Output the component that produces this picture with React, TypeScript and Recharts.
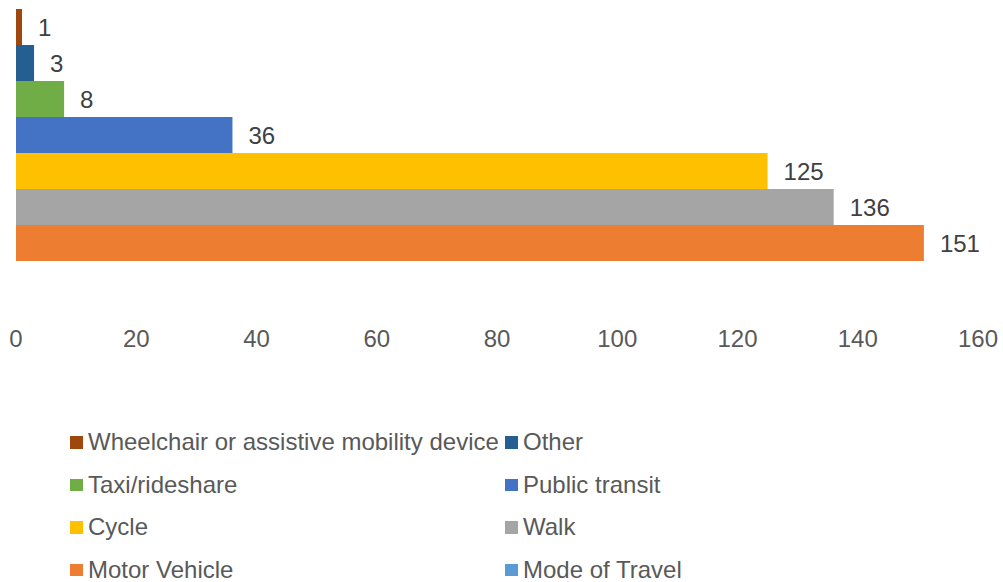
import React from 'react';
import { BarChart, Bar, XAxis, YAxis, Legend, LabelList } from 'recharts';

const categories = ['Mode of Travel'];
const seriesNames = [
  'Wheelchair or assistive mobility device',
  'Other',
  'Taxi/rideshare',
  'Public transit',
  'Cycle',
  'Walk',
  'Motor Vehicle',
  'Mode of Travel',
];
const seriesValues: (number | null)[] = [1, 3, 8, 36, 125, 136, 151, null];
const seriesColors = ['#9E480E', '#255E91', '#70AD47', '#4472C4', '#FFC000', '#A5A5A5', '#ED7D31', '#5B9BD5'];
const xTicks = [0, 20, 40, 60, 80, 100, 120, 140, 160];

const data = categories.map((c) => {
  const row: Record<string, any> = { name: c };
  seriesNames.forEach((s, i) => {
    row['s' + i] = seriesValues[i];
  });
  return row;
});

const FONT = '"Liberation Sans", Arial, sans-serif';

const renderLegend = () => {
  const colX = [70, 505];
  const textX = [88, 523];
  return (
    <div style={{ position: 'relative', width: 1003, height: 160, fontFamily: FONT }}>
      {seriesNames.map((name, i) => {
        const col = i % 2;
        const row = Math.floor(i / 2);
        const baseTop = 5 + row * 42.5;
        return (
          <React.Fragment key={i}>
            <div
              style={{
                position: 'absolute',
                left: colX[col],
                top: baseTop + 6,
                width: 12.5,
                height: 12.5,
                background: seriesColors[i],
              }}
            />
            <span
              style={{
                position: 'absolute',
                left: textX[col],
                top: baseTop,
                fontSize: 24,
                lineHeight: '24px',
                color: '#595959',
                whiteSpace: 'nowrap',
              }}
            >
              {name}
            </span>
          </React.Fragment>
        );
      })}
    </div>
  );
};

export default function App() {
  return (
    <div style={{ position: 'absolute', left: 0, top: 0, width: 1003, height: 582, background: '#fff' }}>
      <BarChart
        width={1003}
        height={582}
        data={data}
        layout="vertical"
        margin={{ top: 0, right: 25, bottom: 237, left: 16 }}
        barGap={0}
        barCategoryGap={9}
      >
        <XAxis
          type="number"
          domain={[0, 160]}
          ticks={xTicks}
          interval={0}
          axisLine={false}
          tickLine={false}
          height={40}
          tickMargin={19}
          tick={{ fill: '#595959', fontSize: 24, fontFamily: FONT }}
        />
        <YAxis type="category" dataKey="name" hide />
        {seriesNames.map((s, i) => (
          <Bar key={s} dataKey={'s' + i} name={s} fill={seriesColors[i]} isAnimationActive={false}>
            <LabelList
              dataKey={'s' + i}
              position="right"
              offset={16}
              style={{ fill: '#404040', fontSize: 24, fontFamily: FONT }}
            />
          </Bar>
        ))}
        <Legend
          layout="vertical"
          align="center"
          verticalAlign="middle"
          content={renderLegend}
          wrapperStyle={{ left: 0, top: 425, width: 1003, height: 160 }}
        />
      </BarChart>
    </div>
  );
}
